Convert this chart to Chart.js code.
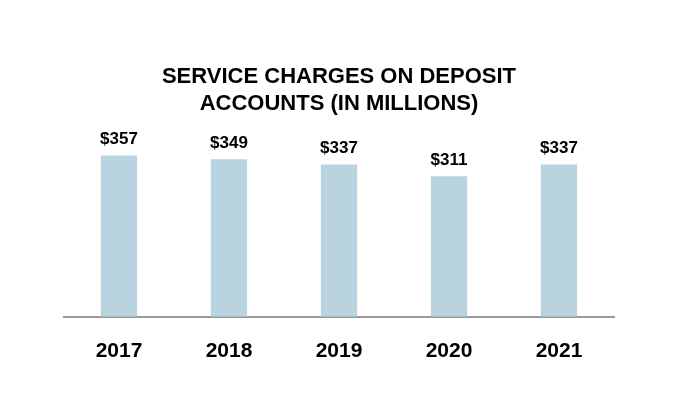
<!DOCTYPE html>
<html>
<head>
<meta charset="utf-8">
<script src="https://cdn.jsdelivr.net/npm/chart.js@4/dist/chart.umd.min.js"></script>
<style>
html,body{margin:0;padding:0;background:#fff;}
#wrap{width:680px;height:420px;}
</style>
</head>
<body>
<div id="wrap"><canvas id="c" width="680" height="420"></canvas></div>
<script>
const categories = ['2017', '2018', '2019', '2020', '2021'];
const values = [357, 349, 337, 311, 337];
const valueLabels = ['$357', '$349', '$337', '$311', '$337'];
const titleLines = ['SERVICE CHARGES ON DEPOSIT', 'ACCOUNTS (IN MILLIONS)'];

const FONT = '"Liberation Sans", Arial, Helvetica, sans-serif';

const valueLabelPlugin = {
  id: 'valueLabels',
  afterDatasetsDraw(chart) {
    const ctx = chart.ctx;
    const meta = chart.getDatasetMeta(0);
    ctx.save();
    ctx.font = 'bold 17px ' + FONT;
    ctx.fillStyle = '#000';
    ctx.textAlign = 'center';
    ctx.textBaseline = 'middle';
    meta.data.forEach((bar, i) => {
      ctx.fillText(valueLabels[i], bar.x, bar.y - 16);
    });
    ctx.restore();
  }
};

new Chart(document.getElementById('c'), {
  type: 'bar',
  data: {
    labels: categories,
    datasets: [{
      data: values,
      backgroundColor: '#BAD3E0',
      borderWidth: 0,
      barPercentage: 0.33,
      categoryPercentage: 1.0
    }]
  },
  options: {
    responsive: false,
    animation: false,
    devicePixelRatio: 1,
    layout: { padding: { left: 64, right: 66, top: 0, bottom: 42 } },
    plugins: {
      legend: { display: false },
      tooltip: { enabled: false },
      title: {
        display: true,
        text: titleLines,
        color: '#000',
        font: { family: FONT, size: 22, weight: 'bold', lineHeight: 1.23 },
        padding: { top: 63, bottom: 19 }
      }
    },
    scales: {
      x: {
        grid: { display: false },
        border: { display: true, color: '#999999', width: 2 },
        ticks: {
          color: '#000',
          padding: 14,
          font: { family: FONT, size: 21, weight: 'bold' }
        }
      },
      y: {
        display: false,
        min: 0,
        max: 400
      }
    }
  },
  plugins: [valueLabelPlugin]
});
</script>
</body>
</html>
